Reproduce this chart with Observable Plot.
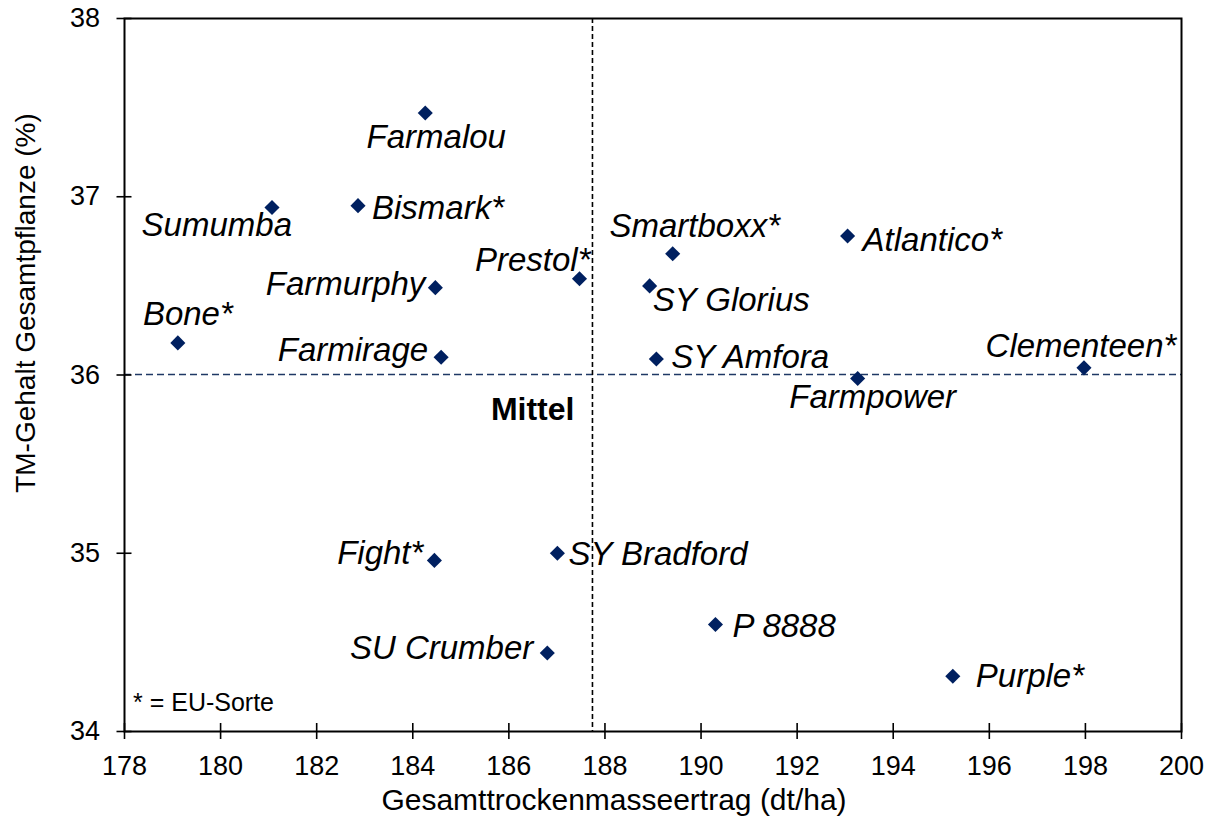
<!DOCTYPE html>
<html>
<head>
<meta charset="utf-8">
<script src="https://cdn.jsdelivr.net/npm/d3@7"></script>
<script src="https://cdn.jsdelivr.net/npm/@observablehq/plot@0.6"></script>
<style>
  body { margin: 0; background: #ffffff; }
  #chart svg { font-family: "Liberation Sans", Arial, sans-serif; }
</style>
</head>
<body>
<div id="chart"></div>
<script>
// ---- data ----
const varieties = ["Farmalou", "Sumumba", "Bismark*", "Smartboxx*", "Atlantico*", "Prestol*", "Farmurphy", "SY Glorius", "Bone*", "Farmirage", "SY Amfora", "Clementeen*", "Farmpower", "Fight*", "SY Bradford", "P 8888", "SU Crumber", "Purple*"];
const yieldDt = [184.26, 181.07, 182.86, 189.41, 193.05, 187.47, 184.47, 188.93, 179.11, 184.59, 189.07, 197.97, 193.26, 184.45, 187.01, 190.30, 186.80, 195.24];
const dryMatter = [37.47, 36.94, 36.95, 36.68, 36.78, 36.54, 36.49, 36.50, 36.18, 36.10, 36.09, 36.04, 35.98, 34.96, 35.00, 34.60, 34.44, 34.31];
const xTicks = [178, 180, 182, 184, 186, 188, 190, 192, 194, 196, 198, 200];
const yTicks = [34, 35, 36, 37, 38];
const xTitle = "Gesamttrockenmasseertrag (dt/ha)";
const yTitle = "TM-Gehalt Gesamtpflanze (%)";
const meanLabel = "Mittel";
const noteText = "* = EU-Sorte";

// ---- label layout (placement of each variety name next to its marker) ----
const labelAnchor = ["middle", "end", "start", "middle", "start", "end", "end", "start", "middle", "end", "start", "middle", "middle", "end", "start", "start", "end", "start"];
const labelDx = [11, 20, 14, 22, 15, 11, -10, 3, 10, -13, 15, -3, 15, -11, 11, 17, -14, 23];
const labelDy = [24, 18, 3, -27, 4, -18, -3, 15, -28, -7, -2, -21, 19, -7, 1, 2, -5, 0];

const data = varieties.map((name, i) => ({name, x: yieldDt[i], y: dryMatter[i]}));
const meanX = d3.mean(yieldDt);
const meanY = d3.mean(dryMatter);

const navy = "#002060";

const labelMarks = data.map((d, i) => Plot.text([d], {
  x: "x", y: "y", text: "name",
  textAnchor: labelAnchor[i], dx: labelDx[i], dy: labelDy[i],
  fontSize: 33, fontStyle: "italic", fill: "#000"
}));

const chart = Plot.plot({
  width: 1214,
  height: 829,
  marginLeft: 124,
  marginRight: 33,
  marginTop: 18,
  marginBottom: 98,
  style: {background: "#ffffff", fontFamily: "'Liberation Sans', Arial, sans-serif"},
  x: {domain: [178, 200]},
  y: {domain: [34, 38]},
  marks: [
    Plot.ruleY([meanY], {stroke: "#1F3864", strokeWidth: 1.6, strokeDasharray: "7,4"}),
    Plot.ruleX([meanX], {stroke: "#000", strokeWidth: 1.6, strokeDasharray: "5,3"}),
    Plot.axisX({ticks: xTicks, tickFormat: d => String(d), tickSize: 16, dy: -8, tickPadding: 16, label: null, fontSize: 27, stroke: "#000", strokeWidth: 1.6, fill: "#000"}),
    Plot.axisY({ticks: yTicks, tickFormat: d => String(d), tickSize: 15, dx: 7.5, tickPadding: 17, label: null, fontSize: 27, stroke: "#000", strokeWidth: 1.6, fill: "#000"}),
    Plot.frame({stroke: "#000", strokeWidth: 2}),
    Plot.dot(data, {x: "x", y: "y", symbol: "diamond2", r: 6.8, fill: navy, stroke: "none"}),
    ...labelMarks,
    Plot.text([{x: meanX, y: meanY, t: meanLabel}], {x: "x", y: "y", text: "t", textAnchor: "end", dx: -18, dy: 35, fontSize: 32, fontWeight: "bold", fill: "#000"}),
    Plot.text([noteText], {frameAnchor: "bottom-left", textAnchor: "start", lineAnchor: "middle", dx: 8.5, dy: -29, fontSize: 25, fill: "#000"}),
    Plot.text([xTitle], {frameAnchor: "bottom", textAnchor: "middle", lineAnchor: "middle", dx: -39, dy: 69, fontSize: 30, fill: "#000"}),
    Plot.text([yTitle], {frameAnchor: "left", textAnchor: "middle", lineAnchor: "middle", rotate: -90, dx: -98, dy: -72, fontSize: 28, fill: "#000"})
  ]
});

document.getElementById("chart").appendChild(chart);
</script>
</body>
</html>
